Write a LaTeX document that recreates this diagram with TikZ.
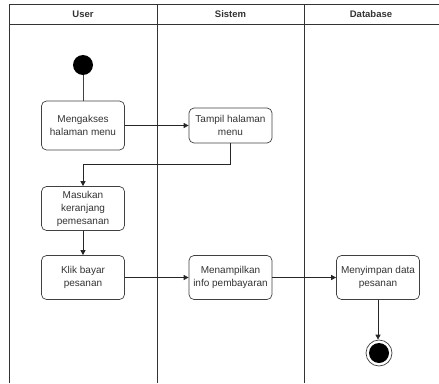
\documentclass[tikz,border=0pt]{standalone}
\usepackage{fontspec}
\setmainfont{Liberation Sans}
\usetikzlibrary{arrows.meta}

\begin{document}
\begin{tikzpicture}[x=1pt,y=-1pt,
	act/.style={draw=black!75, rounded corners=5pt, line width=0.7pt, minimum width=83pt, align=center, inner sep=1pt, text=black!80, font=\fontsize{10}{13}\selectfont},
	flow/.style={draw=black!85, line width=0.7pt, -{Triangle[length=5pt,width=5pt]}},
	lane/.style={draw=black!80, line width=0.7pt},
	lanehead/.style={font=\bfseries\fontsize{9.5}{11}\selectfont, text=black!80}]
		%%%%% START %%%%%
		\useasboundingbox (0, 0) rectangle (439, 383);
		
		% swimlanes
		\draw[lane] (439, 4) -- (9, 4) -- (9, 383);
		\draw[lane] (9, 24) -- (439, 24);
		\draw[lane] (157, 4) -- (157, 383);
		\draw[lane] (304, 4) -- (304, 383);
		\node[lanehead] (hUser) at (83, 14) {User};
		\node[lanehead] (hSistem) at (230.5, 14) {Sistem};
		\node[lanehead] (hDatabase) at (371, 14) {Database};
		
		% nodes
		\node[circle, fill=black, minimum size=20pt, inner sep=0pt] (start) at (83, 65) {};
		\node[act, minimum height=49pt] (akses) at (83, 125.5) {Mengakses\\halaman menu};
		\node[act, minimum height=35pt] (tampil) at (230.5, 125.5) {Tampil halaman\\menu};
		\node[act, minimum height=44pt] (keranjang) at (83, 208.5) {Masukan\\keranjang\\pemesanan};
		\node[act, minimum height=44pt] (bayar) at (83, 277.5) {Klik bayar\\pesanan};
		\node[act, minimum height=44pt] (info) at (230.5, 277.5) {Menampilkan\\info pembayaran};
		\node[act, minimum height=44pt] (simpan) at (378, 277.5) {Menyimpan data\\pesanan};
		\node[circle, draw=black!75, line width=0.7pt, minimum size=26pt, inner sep=0pt] (end) at (379, 353) {};
		\fill[black] (end.center) circle (10);
		\coordinate (bend) at (83, 164);
		
		% connectors
		\draw[draw=black!75, line width=0.7pt] (start) -- (akses);
		\draw[flow] (akses) -- (tampil);
		\draw[flow] (tampil.south) |- (bend) -- (keranjang.north);
		\draw[flow] (keranjang) -- (bayar);
		\draw[flow] (bayar) -- (info);
		\draw[flow] (info) -- (simpan);
		\draw[flow] (simpan.south) -- (simpan.south |- end.north);
		%%%%% END %%%%%
\end{tikzpicture}
\end{document}
